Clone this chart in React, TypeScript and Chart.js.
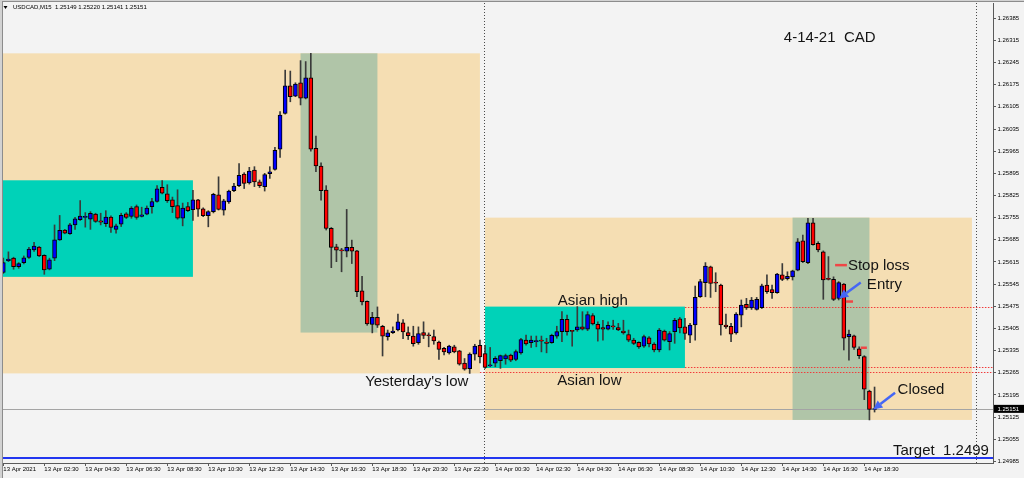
import React, { useEffect, useRef } from "react";
import { Chart, registerables } from "chart.js";

Chart.register(...registerables);

// Bars are counted in 15-minute steps from 13 Apr 2021 00:00 (bar 96 = 14 Apr 00:00).
const FIRST_BAR = 2;

const opens = [
  1.25582, 1.25619, 1.25627, 1.256, 1.25613, 1.25629, 1.25653, 1.25662, 1.25636, 1.25592,
  1.25627, 1.25685, 1.25716, 1.25704, 1.25732, 1.25749, 1.25756, 1.2575, 1.25766, 1.25745,
  1.25736, 1.25757, 1.25718, 1.25734, 1.25767, 1.25759, 1.2579, 1.25759, 1.25766, 1.2579,
  1.25806, 1.25851, 1.2583, 1.25811, 1.25793, 1.25753, 1.2579, 1.2578, 1.25811, 1.25783,
  1.25761, 1.25774, 1.25827, 1.25779, 1.25805, 1.2584, 1.25856, 1.25893, 1.25865, 1.25905,
  1.25868, 1.25853, 1.25894, 1.25907, 1.25971, 1.26084, 1.26171, 1.26139, 1.26181, 1.26132,
  1.26197, 1.25974, 1.25918, 1.25842, 1.25721, 1.25663, 1.25652, 1.25649, 1.25661, 1.2565,
  1.25524, 1.25491, 1.25418, 1.2544, 1.25412, 1.25379, 1.25392, 1.254, 1.25423, 1.25392,
  1.25381, 1.2536, 1.25392, 1.25383, 1.25379, 1.25362, 1.25342, 1.25328, 1.25347, 1.25334,
  1.25296, 1.25278, 1.25324, 1.25352, 1.25326, 1.25287, 1.25295, 1.25303, 1.25309, 1.25321,
  1.25307, 1.25328, 1.25368, 1.2536, 1.25363, 1.25367, 1.25362, 1.2536, 1.25381, 1.25395,
  1.25434, 1.25397, 1.254, 1.2541, 1.25403, 1.25446, 1.25418, 1.25408, 1.25403, 1.25411,
  1.25408, 1.25397, 1.25386, 1.25368, 1.25361, 1.25349, 1.25375, 1.25356, 1.25337, 1.25397,
  1.25363, 1.25395, 1.25435, 1.2541, 1.25384, 1.25416, 1.25505, 1.2555, 1.256, 1.25549,
  1.25542, 1.25416, 1.25412, 1.25391, 1.25447, 1.25481, 1.2547, 1.25465, 1.25471, 1.25542,
  1.25528, 1.25518, 1.25574, 1.25562, 1.25568, 1.25589, 1.25682, 1.25613, 1.25739, 1.25674,
  1.25647, 1.25561, 1.2556, 1.255, 1.25545, 1.25379, 1.25382, 1.25341, 1.25316, 1.25207,
  1.25149,
];

const highs = [
  1.25627, 1.25647, 1.2563, 1.25613, 1.25634, 1.25661, 1.25677, 1.25664, 1.25638, 1.25627,
  1.25732, 1.25762, 1.25718, 1.25737, 1.25756, 1.25809, 1.25771, 1.25774, 1.25769, 1.25769,
  1.25777, 1.25761, 1.25735, 1.25769, 1.25771, 1.2579, 1.25795, 1.25788, 1.25792, 1.25816,
  1.25856, 1.25872, 1.25859, 1.2582, 1.25843, 1.25801, 1.25803, 1.25841, 1.25813, 1.25786,
  1.25777, 1.25832, 1.25884, 1.25813, 1.25842, 1.25863, 1.25926, 1.25897, 1.25914, 1.25916,
  1.25874, 1.25895, 1.25916, 1.25977, 1.2609, 1.26221, 1.26218, 1.26181, 1.26251, 1.26248,
  1.26274, 1.26013, 1.25928, 1.25856, 1.25724, 1.25671, 1.25658, 1.25781, 1.25684, 1.25652,
  1.2557, 1.25492, 1.25456, 1.25473, 1.25415, 1.254, 1.2541, 1.2545, 1.25433, 1.2541,
  1.25412, 1.2541, 1.25426, 1.25391, 1.254, 1.25365, 1.25345, 1.25352, 1.25352, 1.25336,
  1.2531, 1.25328, 1.25355, 1.25368, 1.25352, 1.25345, 1.25316, 1.25321, 1.25324, 1.25324,
  1.25337, 1.25374, 1.25384, 1.25381, 1.25381, 1.25381, 1.25374, 1.25387, 1.25412, 1.25458,
  1.25447, 1.25398, 1.25474, 1.25458, 1.25458, 1.25452, 1.25426, 1.25431, 1.25426, 1.25431,
  1.25421, 1.25431, 1.254, 1.25374, 1.25363, 1.25384, 1.25379, 1.2536, 1.25405, 1.254,
  1.25395, 1.25437, 1.2544, 1.25437, 1.25421, 1.25539, 1.2556, 1.25613, 1.25602, 1.25581,
  1.25545, 1.2545, 1.25421, 1.25455, 1.25495, 1.255, 1.25503, 1.25503, 1.25545, 1.25574,
  1.25542, 1.25579, 1.2561, 1.25584, 1.25589, 1.25689, 1.257, 1.25753, 1.25753, 1.25679,
  1.2565, 1.25632, 1.25568, 1.25553, 1.25547, 1.254, 1.25384, 1.25347, 1.25319, 1.2521,
  1.2522,
];

const lows = [
  1.25579, 1.25616, 1.25592, 1.25595, 1.25609, 1.25626, 1.25648, 1.25632, 1.25576, 1.2559,
  1.25619, 1.25683, 1.25704, 1.25702, 1.25718, 1.25746, 1.25725, 1.25718, 1.2574, 1.25732,
  1.25727, 1.25708, 1.25706, 1.25727, 1.25752, 1.25753, 1.2575, 1.25757, 1.25764, 1.25769,
  1.25804, 1.2583, 1.25803, 1.25771, 1.2575, 1.25729, 1.25774, 1.25746, 1.25759, 1.25758,
  1.25726, 1.2577, 1.25779, 1.25763, 1.258, 1.25837, 1.25853, 1.25847, 1.25861, 1.25853,
  1.2585, 1.25839, 1.25879, 1.25905, 1.25945, 1.26082, 1.26121, 1.26137, 1.26111, 1.2613,
  1.25965, 1.259, 1.2581, 1.25716, 1.25597, 1.25616, 1.25584, 1.25631, 1.2561, 1.25505,
  1.25479, 1.25415, 1.25391, 1.25408, 1.25318, 1.25368, 1.25389, 1.25397, 1.25373, 1.2537,
  1.25349, 1.25355, 1.25373, 1.25347, 1.25355, 1.25307, 1.25321, 1.25324, 1.25328, 1.25289,
  1.25273, 1.25263, 1.25305, 1.25296, 1.25279, 1.25284, 1.25284, 1.25279, 1.25292, 1.253,
  1.25303, 1.25324, 1.25352, 1.25345, 1.25347, 1.25331, 1.25328, 1.25358, 1.25374, 1.25363,
  1.25384, 1.25349, 1.25396, 1.254, 1.25398, 1.25416, 1.25365, 1.25368, 1.254, 1.25402,
  1.25398, 1.25387, 1.25363, 1.25354, 1.25342, 1.25345, 1.25347, 1.25331, 1.25331, 1.25365,
  1.25337, 1.25358, 1.25391, 1.2537, 1.2536, 1.25368, 1.25503, 1.25505, 1.25503, 1.25521,
  1.25384, 1.25405, 1.25363, 1.25387, 1.2541, 1.25465, 1.25465, 1.25463, 1.25468, 1.25516,
  1.255, 1.25516, 1.25556, 1.25558, 1.25558, 1.25587, 1.25613, 1.2561, 1.25668, 1.25647,
  1.25497, 1.25558, 1.25493, 1.25495, 1.25337, 1.25305, 1.25339, 1.2531, 1.2518, 1.25116,
  1.25141,
];

const closes = [
  1.25613, 1.25624, 1.256, 1.2561, 1.25628, 1.25656, 1.25665, 1.25634, 1.2559, 1.25622,
  1.25685, 1.25715, 1.25706, 1.25732, 1.25751, 1.2576, 1.25757, 1.25769, 1.25743, 1.25741,
  1.25757, 1.25724, 1.25729, 1.25762, 1.25756, 1.25785, 1.25756, 1.25764, 1.25785, 1.25806,
  1.25846, 1.25832, 1.25809, 1.2579, 1.25753, 1.25785, 1.25777, 1.25811, 1.25782, 1.25761,
  1.25774, 1.25829, 1.25781, 1.25808, 1.25839, 1.25855, 1.25889, 1.25863, 1.25902, 1.25868,
  1.25856, 1.25891, 1.259, 1.25968, 1.26079, 1.26171, 1.26137, 1.26177, 1.26132, 1.26197,
  1.25971, 1.25918, 1.2584, 1.25721, 1.25661, 1.25652, 1.2565, 1.25661, 1.25649, 1.25521,
  1.25489, 1.25419, 1.2544, 1.25415, 1.25381, 1.25391, 1.25397, 1.25426, 1.25394, 1.25382,
  1.25357, 1.25389, 1.25383, 1.25382, 1.25366, 1.25339, 1.25331, 1.25349, 1.25331, 1.25292,
  1.25276, 1.25324, 1.25349, 1.25315, 1.25282, 1.2529, 1.25311, 1.25319, 1.25319, 1.25305,
  1.25332, 1.2537, 1.25356, 1.25368, 1.25367, 1.25365, 1.25358, 1.25383, 1.25395, 1.25434,
  1.25395, 1.25396, 1.2541, 1.25403, 1.25449, 1.25419, 1.25403, 1.25403, 1.25415, 1.2541,
  1.254, 1.25391, 1.25368, 1.25358, 1.25347, 1.25379, 1.25356, 1.25337, 1.254, 1.25368,
  1.25389, 1.25431, 1.25407, 1.25389, 1.25416, 1.25503, 1.25553, 1.25602, 1.25547, 1.25548,
  1.25416, 1.2541, 1.25387, 1.2545, 1.25479, 1.2547, 1.25495, 1.25497, 1.2554, 1.25521,
  1.25518, 1.25577, 1.2556, 1.2557, 1.25587, 1.25679, 1.25616, 1.25739, 1.2567, 1.25653,
  1.25558, 1.2556, 1.25497, 1.2555, 1.25374, 1.25387, 1.25345, 1.25319, 1.25213, 1.25149,
  1.25151,
];

const tickBars = [2, 10, 18, 26, 34, 42, 50, 58, 66, 74, 82, 90, 98, 106, 114, 122, 130, 138, 146, 154, 162, 170];
const tickLabels = [
  "13 Apr 2021", "13 Apr 02:30", "13 Apr 04:30", "13 Apr 06:30", "13 Apr 08:30", "13 Apr 10:30",
  "13 Apr 12:30", "13 Apr 14:30", "13 Apr 16:30", "13 Apr 18:30", "13 Apr 20:30", "13 Apr 22:30",
  "14 Apr 00:30", "14 Apr 02:30", "14 Apr 04:30", "14 Apr 06:30", "14 Apr 08:30", "14 Apr 10:30",
  "14 Apr 12:30", "14 Apr 14:30", "14 Apr 16:30", "14 Apr 18:30",
];
const priceTicks = [
  1.24985, 1.25055, 1.25125, 1.25195, 1.25265, 1.25335, 1.25405, 1.25475, 1.25545, 1.25615, 1.25685,
  1.25755, 1.25825, 1.25895, 1.25965, 1.26035, 1.26105, 1.26175, 1.26245, 1.26315, 1.26385,
];

// Session boxes (bar range, price range)
const zoneKind = ["day", "asia", "move", "day", "asia", "move"];
const zoneFrom = [-4, -4, 60, 96, 96, 156];
const zoneTo = [95, 39, 75, 191, 135, 171];
const zoneHigh = [1.26274, 1.25873, 1.26274, 1.25755, 1.25474, 1.25755];
const zoneLow = [1.25263, 1.25568, 1.25392, 1.25116, 1.2528, 1.25116];

// Horizontal levels
const levelPrices = [1.25474, 1.25282, 1.25266];
const levelFrom = [135, 135, 95];
const bidPrice = 1.25151;
const targetPrice = 1.24995;
const daySeparators = [96, 192];

// Stop-loss marks
const stopFrom = [164.3, 166.4, 169.3];
const stopTo = [166.6, 167.8, 170.5];
const stopPrices = [1.25605, 1.2549, 1.25344];

// Arrows (from bar, from price, to bar, to price)
const arrowFromBar = [169.3, 176.0];
const arrowFromPrice = [1.2555, 1.25202];
const arrowToBar = [165.1, 171.75];
const arrowToPrice = [1.255, 1.25149];

// Text notes (left bar, baseline price)
const noteText = ["4-14-21  CAD", "Stop loss", "Entry", "Closed", "Asian high", "Asian low", "Yesterday's low", "Target  1.2499"];
const noteBar = [154.3, 166.8, 170.5, 176.5, 110.2, 110.1, 72.6, 175.6];
const notePrice = [1.26311, 1.2559, 1.2553, 1.25198, 1.25479, 1.25226, 1.25223, 1.25005];

const titleText = "USDCAD,M15  1.25149 1.25220 1.25141 1.25151";

const ZONE_COLORS: Record<string, string> = { day: "#f5deb3", asia: "#00d2b8", move: "#b0c5a8" };
const FONT = "'Liberation Sans', Arial, sans-serif";

const bars = opens.map((_, k) => FIRST_BAR + k);
const bodies = bars.map((b, k) => ({ x: b, y: [opens[k], closes[k]] }));
const wicks = bars.map((b, k) => ({ x: b, y: [lows[k], highs[k]] }));
const bodyColors = bars.map((_, k) => (closes[k] >= opens[k] ? "#0000ff" : "#ff0000"));

function drawArrow(ctx: CanvasRenderingContext2D, x0: number, y0: number, x1: number, y1: number) {
  const ang = Math.atan2(y1 - y0, x1 - x0);
  const head = 9;
  const half = 4.5;
  const bx = x1 - head * Math.cos(ang);
  const by = y1 - head * Math.sin(ang);
  ctx.beginPath();
  ctx.moveTo(x0, y0);
  ctx.lineTo(bx, by);
  ctx.stroke();
  ctx.beginPath();
  ctx.moveTo(x1, y1);
  ctx.lineTo(bx + half * Math.sin(ang), by - half * Math.cos(ang));
  ctx.lineTo(bx - half * Math.sin(ang), by + half * Math.cos(ang));
  ctx.closePath();
  ctx.fill();
}

const overlayPlugin = {
  id: "mtOverlay",
  beforeDraw(chart: any) {
    const { ctx, width, height } = chart;
    ctx.save();
    ctx.fillStyle = "#f3f3f3";
    ctx.fillRect(0, 0, width, height);
    ctx.fillStyle = "#d2d2d2";
    ctx.fillRect(0, 0, 2, height);
    ctx.fillRect(0, 0, width, 1);
    ctx.strokeStyle = "#8c8c8c";
    ctx.lineWidth = 1;
    ctx.beginPath();
    ctx.moveTo(2.5, 1);
    ctx.lineTo(2.5, height);
    ctx.moveTo(2, 1.5);
    ctx.lineTo(width, 1.5);
    ctx.stroke();
    ctx.restore();
  },
  beforeDatasetsDraw(chart: any) {
    const { ctx, chartArea: a, scales } = chart;
    const x = scales.x;
    const y = scales.y;
    ctx.save();
    ctx.beginPath();
    ctx.rect(a.left, a.top, a.right - a.left, a.bottom - a.top);
    ctx.clip();
    zoneKind.forEach((k, n) => {
      const x0 = x.getPixelForValue(zoneFrom[n]);
      const x1 = x.getPixelForValue(zoneTo[n]);
      const y0 = y.getPixelForValue(zoneHigh[n]);
      const y1 = y.getPixelForValue(zoneLow[n]);
      ctx.fillStyle = ZONE_COLORS[k];
      ctx.fillRect(x0, y0, x1 - x0, y1 - y0);
    });
    // day separators
    ctx.strokeStyle = "#4a4a4a";
    ctx.lineWidth = 1;
    ctx.setLineDash([1, 2]);
    daySeparators.forEach((b) => {
      const px = Math.round(x.getPixelForValue(b) - 1) + 0.5;
      ctx.beginPath();
      ctx.moveTo(px, a.top);
      ctx.lineTo(px, a.bottom);
      ctx.stroke();
    });
    // red dotted levels
    ctx.strokeStyle = "#f03c3c";
    ctx.setLineDash([1.5, 1.5]);
    levelPrices.forEach((p, n) => {
      const py = Math.round(y.getPixelForValue(p)) + 0.5;
      ctx.beginPath();
      ctx.moveTo(x.getPixelForValue(levelFrom[n]), py);
      ctx.lineTo(a.right, py);
      ctx.stroke();
    });
    ctx.setLineDash([]);
    // bid line
    ctx.strokeStyle = "#a4a4a4";
    const by = Math.round(y.getPixelForValue(bidPrice)) + 0.5;
    ctx.beginPath();
    ctx.moveTo(a.left, by);
    ctx.lineTo(a.right, by);
    ctx.stroke();
    // target line
    ctx.strokeStyle = "#2236f0";
    ctx.lineWidth = 2;
    const ty = Math.round(y.getPixelForValue(targetPrice));
    ctx.beginPath();
    ctx.moveTo(a.left, ty);
    ctx.lineTo(a.right, ty);
    ctx.stroke();
    ctx.restore();
  },
  afterDatasetsDraw(chart: any) {
    const { ctx, chartArea: a, scales } = chart;
    const x = scales.x;
    const y = scales.y;
    ctx.save();
    ctx.beginPath();
    ctx.rect(a.left, a.top, a.right - a.left, a.bottom - a.top);
    ctx.clip();
    // stop-loss marks
    ctx.strokeStyle = "#f04646";
    ctx.lineWidth = 2.5;
    stopPrices.forEach((p, n) => {
      const py = y.getPixelForValue(p);
      ctx.beginPath();
      ctx.moveTo(x.getPixelForValue(stopFrom[n]), py);
      ctx.lineTo(x.getPixelForValue(stopTo[n]), py);
      ctx.stroke();
    });
    // arrows
    ctx.strokeStyle = "#4466f5";
    ctx.fillStyle = "#4466f5";
    ctx.lineWidth = 2.5;
    arrowFromBar.forEach((b, n) => {
      drawArrow(
        ctx,
        x.getPixelForValue(b),
        y.getPixelForValue(arrowFromPrice[n]),
        x.getPixelForValue(arrowToBar[n]),
        y.getPixelForValue(arrowToPrice[n])
      );
    });
    // notes
    ctx.fillStyle = "#141414";
    ctx.font = `15px ${FONT}`;
    ctx.textAlign = "left";
    ctx.textBaseline = "alphabetic";
    noteText.forEach((t, n) => {
      ctx.fillText(t, x.getPixelForValue(noteBar[n]), y.getPixelForValue(notePrice[n]));
    });
    ctx.restore();
  },
  afterDraw(chart: any) {
    const { ctx, chartArea: a, scales, width } = chart;
    const y = scales.y;
    ctx.save();
    // title
    ctx.fillStyle = "#000";
    ctx.beginPath();
    ctx.moveTo(3.5, 6);
    ctx.lineTo(7.5, 6);
    ctx.lineTo(5.5, 9);
    ctx.closePath();
    ctx.fill();
    ctx.font = `6px ${FONT}`;
    ctx.textBaseline = "middle";
    ctx.textAlign = "left";
    ctx.fillText(titleText, 13, 7.5);
    // current price box
    const py = y.getPixelForValue(bidPrice);
    ctx.fillStyle = "#000";
    ctx.fillRect(a.right + 1, py - 4, width - a.right - 1, 8);
    ctx.fillStyle = "#fff";
    ctx.fillText(bidPrice.toFixed(5), a.right + 4.5, py + 0.5);
    ctx.restore();
  },
};

export default function App() {
  const ref = useRef<HTMLCanvasElement>(null);
  useEffect(() => {
    const canvas = ref.current;
    if (!canvas) return;
    const chart = new Chart(canvas, {
      type: "bar",
      data: {
        datasets: [
          {
            label: "body",
            data: bodies as any,
            backgroundColor: bodyColors,
            borderColor: "#000000",
            borderWidth: 1,
            borderSkipped: false,
            barThickness: 4,
            minBarLength: 1,
            grouped: false,
            order: 0,
          } as any,
          {
            label: "wick",
            data: wicks as any,
            backgroundColor: "#3a3a3a",
            borderWidth: 0,
            barThickness: 1,
            grouped: false,
            order: 1,
          } as any,
        ],
      },
      options: {
        animation: false,
        responsive: false,
        maintainAspectRatio: false,
        events: [],
        layout: { padding: { left: 3, top: 3, right: 0, bottom: 0 } },
        plugins: {
          legend: { display: false },
          tooltip: { enabled: false },
          title: { display: false },
        },
        scales: {
          x: {
            type: "linear",
            position: "bottom",
            min: 1.94,
            max: 195.11,
            offset: false,
            afterBuildTicks: (s: any) => {
              s.ticks = tickBars.map((v) => ({ value: v }));
            },
            afterFit: (s: any) => {
              s.height = 15;
              s.paddingLeft = 0;
              s.paddingRight = 0;
            },
            ticks: {
              autoSkip: false,
              maxRotation: 0,
              minRotation: 0,
              align: "start",
              padding: 0,
              color: "#000",
              font: { family: FONT, size: 6 },
              callback: (_v: any, i: number) => tickLabels[i],
            },
            grid: { drawOnChartArea: false, drawTicks: true, tickLength: 3, color: "#5a5a5a", offset: false },
            border: { display: true, color: "#5a5a5a" },
          } as any,
          y: {
            type: "linear",
            position: "right",
            min: 1.2498,
            max: 1.26433,
            beginAtZero: false,
            afterBuildTicks: (s: any) => {
              s.ticks = priceTicks.map((v) => ({ value: v }));
            },
            afterFit: (s: any) => {
              s.width = 31;
              s.paddingTop = 0;
              s.paddingBottom = 0;
            },
            ticks: {
              padding: 1.5,
              color: "#000",
              font: { family: FONT, size: 6 },
              callback: (v: any) => Number(v).toFixed(5),
            },
            grid: { drawOnChartArea: false, drawTicks: true, tickLength: 3, color: "#5a5a5a" },
            border: { display: true, color: "#5a5a5a" },
          } as any,
        },
      },
      plugins: [overlayPlugin as any],
    });
    return () => chart.destroy();
  }, []);
  return (
    <div style={{ position: "fixed", left: 0, top: 0, width: 1024, height: 478, background: "#f3f3f3" }}>
      <canvas ref={ref} width={1024} height={478} style={{ display: "block", width: 1024, height: 478 }} />
    </div>
  );
}
